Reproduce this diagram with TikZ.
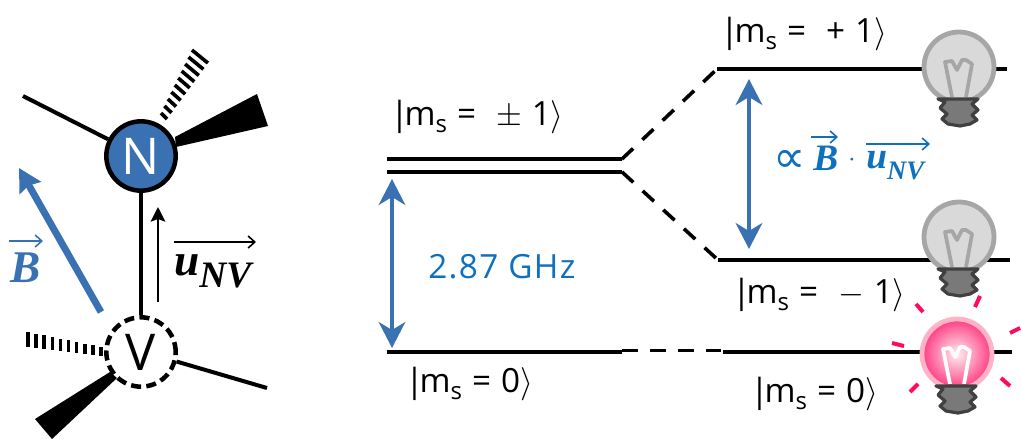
\documentclass[tikz,border=0pt]{standalone}
\usepackage{fontspec}
\usepackage{amsmath}
\setmainfont{Open Sans}[LetterSpace=4]
\newfontfamily\bifont{Liberation Serif Bold Italic}
\newfontfamily\symfont{DejaVu Sans}
\usetikzlibrary{arrows.meta,calc}
\definecolor{nblue}{HTML}{3A71B2}
\definecolor{tblue}{HTML}{0F70BE}
\definecolor{rayc}{HTML}{FF0A62}
\definecolor{ringp}{HTML}{FFB3C6}
\tikzset{
  x=0.75pt,y=-0.75pt,
  bond/.style={line width=3pt,line cap=butt},
  level/.style={line width=2.7pt},
  dlevel/.style={line width=2.7pt,dash pattern=on 11.5pt off 9.5pt},
  blue arrow/.style={draw=nblue,fill=nblue,line width=2.3pt,{Stealth[length=19.5pt,width=20pt,inset=6pt]}-{Stealth[length=19.5pt,width=20pt,inset=6pt]}},
  vec/.style={line width=1.2pt,-{Straight Barb[length=5pt,width=9pt]}},
  atom/.style={circle,minimum size=52pt,inner sep=0pt,line width=3.4pt,draw=black,font=\fontsize{38}{40}\selectfont},
  lab/.style={font=\fontsize{25}{28}\selectfont,inner sep=0pt,anchor=base west},
  ray/.style={rayc,line width=3pt},
  mathB/.style={font=\fontsize{34}{36}\selectfont\bifont,inner sep=0pt,anchor=base west},
  mathBs/.style={font=\fontsize{28}{30}\selectfont\bifont,inner sep=0pt,anchor=base west},
}
\newcommand{\bulbshape}[4]{%
  \begin{scope}[shift={(#1)}]
    \path[draw=#2,line width=3.6pt,#3] (0,0) circle[radius=35];
    \draw[#4,line width=2.8pt,line join=round] (-7,30)--(-14,-5)--(-7,-6)--(-2,3)--(3,-7)--(7,-7)--(13,-3)--(7,30);
    \draw[fill=gray!95!black,draw=black!75,line width=2.4pt,line join=round] (-21,32)--(19,32)--(13,37)--(19,43)--(13,48)--(18,53)--(11,57)--(1,59)--(-11,57)--(-17,52)--(-12,47)--(-19,41)--(-14,35)--cycle;
  \end{scope}}
\newcommand{\kettext}[1]{|\kern-0.12em m\raisebox{-0.22em}{\fontsize{18}{19}\selectfont s} = #1$\rangle$}
\begin{document}
\begin{tikzpicture}
\useasboundingbox (0,0) rectangle (1021,439);
% --- molecule
\node[atom,fill=nblue,text=white] (N) at (141,156) {N};
\node[atom,fill=white,dash pattern=on 7.5pt off 4pt,draw=black] (V) at (141,352) {V};
\coordinate (bondA) at (23,96);
\coordinate (bondB) at (267,388);
\draw[bond] (N) -- (V);
\draw[bond] (bondA) -- (N);
\draw[bond] (V.-15) -- (bondB);
\fill (175,137) -- (257,94) -- (268,126) -- (176,147) -- cycle;
\fill (110,372) -- (35,419) -- (52,439) -- (117,378) -- cycle;
\foreach \t in {0,.111,...,1.0}{
  \draw[line width=2.7pt] ($(161,113)!\t!(192,50)$) -- ($(167,119)!\t!(208,63)$);
}
\foreach \t in {0,.111,...,1.0}{
  \draw[line width=2.7pt] ($(101,347)!\t!(28,332)$) -- ($(101,356)!\t!(28,347)$);
}
\coordinate (bS) at (101,312);
\coordinate (bE) at (19,168);
\draw[nblue,line width=5.2pt,-{Stealth[length=17pt,width=18pt,inset=2pt]}] (bS) -- (bE);
\coordinate (uS) at (158,302);
\coordinate (uE) at (158,207);
\draw[line width=1.5pt,-{Stealth[length=11pt,width=11pt,inset=2pt]}] (uS) -- (uE);
\node[mathB,text=nblue] (Blab) at (10,282) {B};
\coordinate (Ba) at (9,241); \coordinate (Bb) at (43,241);
\draw[vec,nblue] (Ba) -- (Bb);
\node[mathB] (ulab) at (174,275) {u\raisebox{-0.28em}{\fontsize{28}{29}\selectfont NV}};
\coordinate (ua) at (174,242); \coordinate (ub) at (256,242);
\draw[vec] (ua) -- (ub);
% --- levels
\coordinate (d1a) at (387,159); \coordinate (d1b) at (622,159);
\coordinate (d2a) at (387,172); \coordinate (d2b) at (622,172);
\coordinate (p1a) at (717,69); \coordinate (p1b) at (1007,69);
\coordinate (m1a) at (718,260); \coordinate (m1b) at (1010,260);
\coordinate (z1a) at (387,352); \coordinate (z1b) at (622,352);
\coordinate (zd1) at (622,350.5); \coordinate (zd2) at (721,350.5);
\coordinate (z2a) at (723,352); \coordinate (z2b) at (1012,352);
\draw[level] (d1a) -- (d1b);
\draw[level] (d2a) -- (d2b);
\draw[level] (p1a) -- (p1b);
\draw[level] (m1a) -- (m1b);
\draw[level] (z1a) -- (z1b);
\draw[level] (z2a) -- (z2b);
\draw[dlevel] (d1b) -- (p1a);
\draw[dlevel] (d2b) -- (m1a);
\draw[level,dash pattern=on 12pt off 9pt] (zd1) -- (zd2);
\coordinate (g1) at (392,179); \coordinate (g2) at (392,348);
\coordinate (s1) at (749,79); \coordinate (s2) at (749,249);
\draw[blue arrow] (g1) -- (g2);
\draw[blue arrow] (s1) -- (s2);
% --- labels
\node[lab] (Lp) at (720,42) {\kettext{\ +\ 1}};
\node[lab] (Ld) at (390,125) {\kettext{\ $\pm$\ 1}};
\node[lab] (Lm) at (732,303) {\kettext{\ $-$\ 1}};
\node[lab] (Lz) at (405,392) {\kettext{0}};
\node[lab] (Lz2) at (750,402) {\kettext{0}};
\node[lab,text=tblue] (GHz) at (428,278) {2.87 GHz};
\node[lab,text=tblue] (prop) at (773,172) {\fontsize{34}{36}\selectfont\symfont ∝};
\node[mathBs,text=tblue] (Bp) at (813,170) {B};
\node[font=\fontsize{22}{24}\selectfont,text=tblue,inner sep=0pt] (dotp) at (852,160) {$\cdot$};
\node[mathBs,text=tblue] (up) at (866,168) {u\raisebox{-0.3em}{\fontsize{20}{22}\selectfont NV}};
\coordinate (pa) at (811,137); \coordinate (pb) at (838,137);
\coordinate (qa) at (866,144); \coordinate (qb) at (930,144);
\draw[vec,tblue] (pa) -- (pb);
\draw[vec,tblue] (qa) -- (qb);
% --- bulbs
\bulbshape{959,67}{gray!70}{fill=gray!30}{gray!70}
\bulbshape{959,237}{gray!70}{fill=gray!30}{gray!70}
\bulbshape{957,354}{ringp}{inner color=white!75!pink,outer color=rayc!80,shading=radial}{white}
\draw[ray] (916,304) -- (923,312);
\draw[ray] (980,296) -- (975,307);
\draw[ray] (1020,328) -- (1010,333);
\draw[ray] (892,343) -- (904,346);
\draw[ray] (1001,378) -- (1010,386);
\draw[ray] (918,384) -- (910,392);
\end{tikzpicture}
\end{document}
